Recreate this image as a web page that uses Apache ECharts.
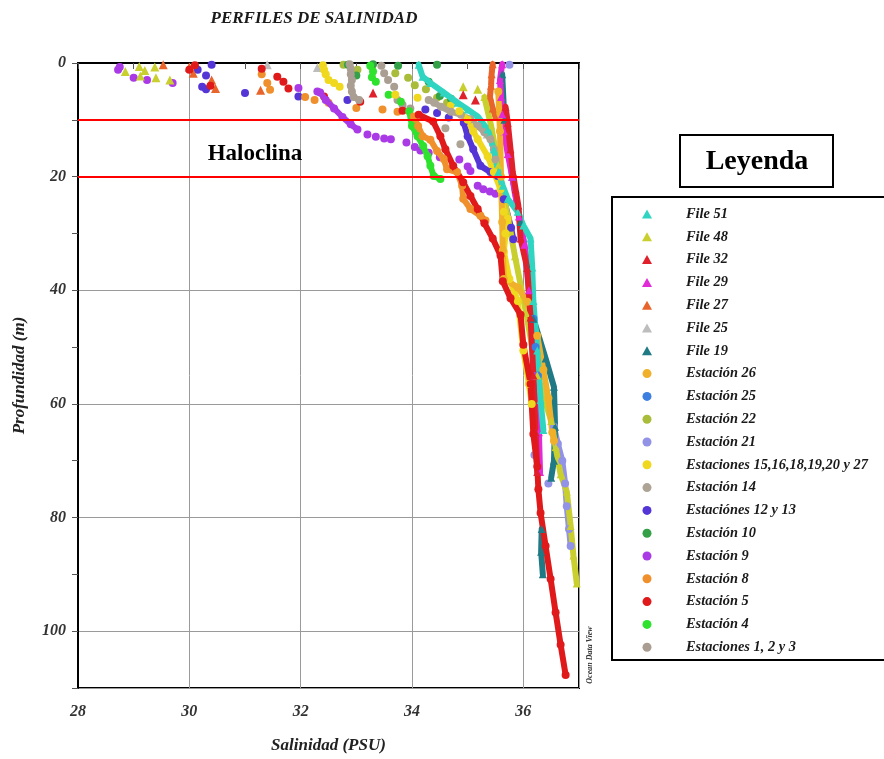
<!DOCTYPE html>
<html>
<head>
<meta charset="utf-8">
<script src="https://cdn.jsdelivr.net/npm/echarts@6/dist/echarts.min.js"></script>
<style>
  html, body { margin: 0; padding: 0; background: #ffffff; }
  #chart { width: 884px; height: 759px; }
</style>
</head>
<body>
<div id="chart"></div>
<script>
// Axis ranges and ticks
const salinityRange = [28, 37];
const depthRange = [0, 110];
const salinityTickStep = 2;
const depthTickStep = 20;
const haloclineDepths = [10, 20];

// Profiles: [salinity (PSU), depth (m)]
const file51Line = [[34.12,0.3],[34.19,2.4],[34.33,3.5],[34.57,5.2],[34.82,7],[35.0,8.2],[35.18,9.4],[35.36,11.7],[35.47,15.2],[35.55,19.2],[35.63,21.6],[35.72,23.9],[35.9,26.2],[36.0,28.6],[36.13,30.9],[36.16,36],[36.18,41.9],[36.25,50.6],[36.31,59.3],[36.36,64.6]];

const file48Dots = [[28.85,1.5],[29.1,0.6],[29.2,1.3],[29.38,0.7],[29.4,2.6],[29.65,3.0],[29.12,2.3],[34.92,4.2],[35.18,4.6]];
const file48Line = [[35.3,6],[35.42,11],[35.55,18],[35.7,26],[35.85,34],[36.05,44],[36.25,55],[36.5,63],[36.58,67.6],[36.67,72.4],[36.78,75.4],[36.85,81.5],[36.9,86.7],[36.96,91.6]];

const file32Dots = [[33.3,5.3],[34.92,5.6],[35.14,6.5]];
const file32Line = [[35.68,7.7],[35.72,10.5],[35.77,15.2],[35.81,19.2],[35.86,22.2],[35.91,25.1],[35.95,30.9],[36.07,36.1],[36.13,44.8],[36.18,55],[36.22,65],[36.25,72]];

const file29Line = [[35.62,0.2],[35.58,3],[35.6,6],[35.62,9],[35.65,12],[35.72,16],[35.8,20],[35.92,27],[36.02,32],[36.1,40],[36.2,55],[36.28,65],[36.3,72]];

const file27Dots = [[29.53,0.3],[30.0,0.7],[30.07,1.8],[30.4,3.0],[30.47,4.5],[31.28,4.8]];
const file27Line = [[35.45,0.2],[35.43,2],[35.42,4],[35.4,6],[35.45,8],[35.5,9.5]];

const file25Dots = [[31.4,0.3],[32.3,0.8],[35.2,10.8],[35.35,12.5]];

const file19Line = [[35.62,2],[35.66,10],[35.8,20],[35.95,28],[36.08,36],[36.18,45],[36.4,52],[36.55,57],[36.57,64],[36.55,70],[36.5,73]];
const file19Deep = [[36.33,82],[36.32,86],[36.35,90]];

const est26Line = [[35.55,5],[35.58,12],[35.6,20],[35.62,28],[35.63,33],[35.65,38],[35.9,39.5],[36.07,42],[36.25,48],[36.36,54],[36.45,59],[36.52,65],[36.55,66.5]];

const est25Line = [[36.18,45],[36.22,50],[36.26,55]];

const est22Dots = [[32.77,0.3],[33.02,1.2],[33.28,0.7],[33.7,1.8],[33.93,2.6],[34.05,3.9],[34.25,4.6],[34.45,6.1],[34.63,7.0]];

const est21Dots = [[35.75,0.3],[36.2,69],[36.45,74]];
const est21Line = [[36.55,64],[36.62,67],[36.7,70],[36.75,74],[36.78,78],[36.82,82],[36.85,85]];

const est1523Dots = [[32.4,0.4],[32.42,1.2],[32.45,2.0],[32.5,3.0],[32.6,3.5],[32.7,4.2],[33.7,5.6],[34.1,6.1],[34.7,7.5]];
const est1523Line = [[34.85,8.5],[35.0,10],[35.1,12],[35.18,13.4],[35.36,16.4],[35.47,19.2],[35.59,22.2],[35.65,26.2],[35.72,27.4],[35.68,30],[35.65,33.2],[35.75,38],[35.9,41.9],[36.0,50.6],[36.1,56.5],[36.15,60]];

const est14Line = [[34.3,6.5],[34.4,7],[34.52,7.7],[34.7,8.6],[34.88,9.1],[35.05,9.9],[35.18,11.1],[35.3,12.2],[35.41,13.4],[35.47,15.2],[35.5,17]];
const est14Dots = [[34.6,11.5],[34.87,14.3]];

const est1213Dots = [[30.4,0.3],[30.15,1.2],[30.3,2.2],[30.23,4.2],[30.3,4.6],[31.0,5.3],[31.96,5.9],[32.84,6.5],[34.24,8.2],[34.45,8.8],[34.66,9.6]];
const est1213Line = [[34.93,10.5],[35.0,12.9],[35.1,15.2],[35.23,18.1],[35.41,19.2],[35.54,19.9],[35.65,24],[35.78,29],[35.82,31]];

const est10Dots = [[32.85,0.3],[33.3,0.2],[33.75,0.5],[34.45,0.3],[34.3,3.3],[34.5,5.8],[34.7,6.3],[33.0,2.2]];

const est9Dots = [[28.72,1.2],[28.75,0.7],[29.0,2.6],[29.24,3.0],[29.7,3.5],[31.96,4.4],[32.3,5.0],[33.2,12.6],[33.35,13.0],[33.5,13.3],[33.62,13.4],[33.9,14.0],[34.05,14.8],[34.15,15.4],[34.3,15.8],[34.5,16.6],[34.85,17.0],[35.0,18.2],[35.05,19.0],[35.18,21.6],[35.28,22.2],[35.4,22.6],[35.5,23.0]];
const est9Line = [[32.35,5.2],[32.45,6.5],[32.6,8],[32.75,9.5],[32.9,10.8],[33.02,11.7]];

const est8Dots = [[31.3,2.0],[31.4,3.5],[31.45,4.7],[32.08,6.0],[32.25,6.5],[32.5,7.0],[33.0,7.9],[33.47,8.2],[33.74,8.6]];
const est8Line = [[34.03,9.4],[34.11,11.1],[34.19,12.9],[34.33,13.5],[34.45,15.5],[34.57,16.9],[34.63,18.7],[34.81,19.2],[34.9,21.6],[34.92,23.9],[35.05,25.7],[35.23,26.9],[35.32,27.7]];

const est5Dots = [[30.0,1.2],[30.1,0.4],[30.38,4.0],[31.3,1.0],[31.58,2.4],[31.69,3.3],[31.78,4.5],[32.42,5.9],[33.07,6.8],[33.83,8.4]];
const est5Line = [[34.12,9.1],[34.38,10.3],[34.51,12.9],[34.6,15.2],[34.74,18.1],[34.92,21],[35.05,23.4],[35.18,25.7],[35.3,28.2],[35.45,30.9],[35.59,33.9],[35.63,38.4],[35.77,41.4],[35.95,44.3],[36.0,49.6],[36.13,56.5],[36.18,65.3],[36.25,71],[36.27,75],[36.31,79.2],[36.4,85],[36.49,90.8],[36.58,96.7],[36.67,102.4],[36.76,107.7]];

const est4Dots = [[33.25,0.5],[33.3,1.5],[33.28,2.5],[33.35,3.3],[33.58,5.6],[33.8,6.8]];
const est4Line = [[33.95,8.5],[34.0,11.1],[34.1,12.9],[34.2,14.6],[34.28,16.4],[34.33,18.1],[34.39,19.9],[34.51,20.4]];

const est123Line = [[32.88,0.2],[32.9,1],[32.9,2],[32.92,3],[32.9,4],[32.92,5],[32.95,6],[33.05,6.5]];
const est123Dots = [[33.45,0.5],[33.5,1.8],[33.57,3],[33.68,4.2],[33.74,6.5],[33.83,7.4],[33.97,8]];

// Legend entries (in display order)
const legendNames = ['File 51','File 48','File 32','File 29','File 27','File 25','File 19',
  'Estación 26','Estación 25','Estación 22','Estación 21','Estaciones 15,16,18,19,20 y 27',
  'Estación 14','Estaciónes 12 y 13','Estación 10','Estación 9','Estación 8','Estación 5',
  'Estación 4','Estaciones 1, 2 y 3'];
const legendIcons = ['triangle','triangle','triangle','triangle','triangle','triangle','triangle',
  'circle','circle','circle','circle','circle','circle','circle','circle','circle','circle','circle','circle','circle'];
const legendColors = ['#2fd5c0','#c9cf2e','#e0202a','#e22ad8','#e8642a','#bdbdbd','#1f7a85',
  '#f0b02a','#3d7fe0','#a9bd3a','#9292e6','#efd81e','#ada496','#5435d6','#34a047','#a93ae6',
  '#f0902c','#e01a1a','#2ee22e','#aa9e92'];

const colorOf = name => legendColors[legendNames.indexOf(name)];
const iconOf = name => legendIcons[legendNames.indexOf(name)];

const serif = 'Liberation Serif, Times New Roman, serif';

function profile(name, data) {
  const c = colorOf(name);
  return {
    type: 'line', name, data,
    symbol: iconOf(name), symbolSize: 8, showSymbol: true,
    lineStyle: { width: 6, color: c, cap: 'round', join: 'round' },
    itemStyle: { color: c },
    silent: true, animation: false
  };
}
function dots(name, data) {
  const c = colorOf(name);
  return {
    type: 'scatter', name, data,
    symbol: iconOf(name), symbolSize: iconOf(name) === 'triangle' ? 9 : 8,
    itemStyle: { color: c, opacity: 1 },
    silent: true, animation: false
  };
}

// drawing order: bottom to top
const series = [
  profile('Estación 25', est25Line),
  dots('Estación 21', est21Dots),
  profile('Estación 21', est21Line),
  profile('File 19', file19Line),
  profile('File 19', file19Deep),
  dots('Estación 22', est22Dots),
  dots('Estación 10', est10Dots),
  profile('Estaciones 1, 2 y 3', est123Line),
  dots('Estaciones 1, 2 y 3', est123Dots),
  profile('Estación 14', est14Line),
  dots('Estación 14', est14Dots),
  dots('File 25', file25Dots),
  dots('Estaciónes 12 y 13', est1213Dots),
  profile('Estaciónes 12 y 13', est1213Line),
  dots('Estación 4', est4Dots),
  profile('Estación 4', est4Line),
  dots('Estación 9', est9Dots),
  profile('Estación 9', est9Line),
  dots('Estación 8', est8Dots),
  profile('Estación 8', est8Line),
  dots('File 27', file27Dots),
  profile('File 27', file27Line),
  profile('File 29', file29Line),
  dots('File 48', file48Dots),
  profile('File 48', file48Line),
  dots('Estaciones 15,16,18,19,20 y 27', est1523Dots),
  profile('Estaciones 15,16,18,19,20 y 27', est1523Line),
  profile('Estación 26', est26Line),
  profile('File 51', file51Line),
  dots('File 32', file32Dots),
  profile('File 32', file32Line),
  dots('Estación 5', est5Dots),
  profile('Estación 5', est5Line)
];

// halocline limits drawn on top of the profiles
series.push({
  type: 'line', name: 'halocline', data: [], silent: true, animation: false,
  markLine: {
    silent: true, symbol: 'none', animation: false,
    label: { show: false },
    lineStyle: { color: '#ff0000', width: 2, type: 'solid' },
    data: haloclineDepths.map(d => ({ yAxis: d }))
  }
});

const tickFont = { fontFamily: serif, fontWeight: 'bold', fontStyle: 'italic', fontSize: 16, color: '#333' };

const chart = echarts.init(document.getElementById('chart'), null, { renderer: 'canvas' });
chart.setOption({
  backgroundColor: '#ffffff',
  animation: false,
  title: {
    text: 'PERFILES DE SALINIDAD',
    left: 309, top: 5, textAlign: 'center',
    textStyle: { fontFamily: serif, fontWeight: 'bold', fontStyle: 'italic', fontSize: 17, color: '#1a1a1a' }
  },
  grid: {
    left: 78, top: 63, width: 501, height: 629,
    show: true, borderColor: '#000', borderWidth: 2, backgroundColor: 'transparent'
  },
  xAxis: {
    type: 'value', min: salinityRange[0], max: salinityRange[1], interval: salinityTickStep,
    name: 'Salinidad (PSU)', nameLocation: 'middle', nameGap: 49,
    nameTextStyle: { fontFamily: serif, fontWeight: 'bold', fontStyle: 'italic', fontSize: 17, color: '#222' },
    axisLine: { show: true, lineStyle: { color: '#000', width: 2 } },
    axisTick: { show: true, length: 6, lineStyle: { color: '#555' } },
    minorTick: { show: true, splitNumber: 2, length: 6, lineStyle: { color: '#555' } },
    splitLine: { show: true, lineStyle: { color: '#9a9a9a', width: 1 } },
    axisLabel: Object.assign({ margin: 16, formatter: v => (v === salinityRange[1] ? '' : String(v)) }, tickFont)
  },
  yAxis: {
    type: 'value', inverse: true, min: depthRange[0], max: depthRange[1], interval: depthTickStep,
    name: 'Profundidad (m)', nameLocation: 'middle', nameGap: 50,
    nameTextStyle: { fontFamily: serif, fontWeight: 'bold', fontStyle: 'italic', fontSize: 17, color: '#222' },
    axisLine: { show: true, lineStyle: { color: '#000', width: 2 } },
    axisTick: { show: true, length: 6, lineStyle: { color: '#555' } },
    minorTick: { show: true, splitNumber: 2, length: 6, lineStyle: { color: '#555' } },
    splitLine: { show: true, lineStyle: { color: '#9a9a9a', width: 1 } },
    axisLabel: Object.assign({ margin: 12, formatter: v => (v === depthRange[1] ? '' : String(v)) }, tickFont)
  },
  legend: {
    orient: 'vertical', left: 637, top: 202,
    itemWidth: 10, itemHeight: 9, itemGap: 8.8,
    selectedMode: false,
    data: legendNames.map((n, i) => ({ name: n, icon: legendIcons[i] })),
    textStyle: {
      fontFamily: serif, fontWeight: 'bold', fontStyle: 'italic', fontSize: 14.4,
      lineHeight: 14, color: '#1a1a1a', padding: [0, 0, 0, 29]
    }
  },
  graphic: [
    { type: 'rect', shape: { x: 612, y: 197, width: 290, height: 463 },
      style: { fill: null, stroke: '#000', lineWidth: 2 }, silent: true },
    { type: 'rect', shape: { x: 680, y: 135, width: 153, height: 52 },
      style: { fill: null, stroke: '#000', lineWidth: 2 }, silent: true },
    { type: 'text', x: 757, y: 162, silent: true,
      style: { text: 'Leyenda', fill: '#000', font: 'bold 28px ' + serif, align: 'center', verticalAlign: 'middle' } },
    { type: 'text', x: 255, y: 154, silent: true, z: 100,
      style: { text: 'Haloclina', fill: '#000', font: 'bold 23px ' + serif, align: 'center', verticalAlign: 'middle' } },
    { type: 'text', x: 590, y: 655, rotation: Math.PI / 2, silent: true,
      style: { text: 'Ocean Data View', fill: '#333', font: 'italic bold 8px ' + serif, align: 'center', verticalAlign: 'middle' } }
  ],
  series
});
</script>
</body>
</html>
